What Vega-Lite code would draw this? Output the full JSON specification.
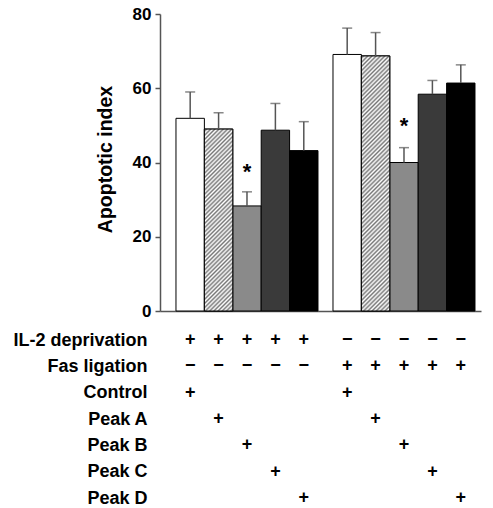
{
  "$schema": "https://vega.github.io/schema/vega-lite/v6.json",
  "padding": {"left": 12, "top": 5, "right": 5, "bottom": 5},
  "config": {"view": {"stroke": null}, "font": "Liberation Sans", "axis": {"grid": false}},
  "datasets": {
    "bars": [
      {"group": "IL2", "cond": "Control", "value": 51.9, "upper": 59.0, "star": null},
      {"group": "IL2", "cond": "Peak A", "value": 49.0, "upper": 53.4, "star": null},
      {"group": "IL2", "cond": "Peak B", "value": 28.3, "upper": 32.1, "star": 38.5},
      {"group": "IL2", "cond": "Peak C", "value": 48.7, "upper": 55.9, "star": null},
      {"group": "IL2", "cond": "Peak D", "value": 43.2, "upper": 51.0, "star": null},
      {"group": "Fas", "cond": "Control", "value": 69.1, "upper": 76.2, "star": null},
      {"group": "Fas", "cond": "Peak A", "value": 68.7, "upper": 75.0, "star": null},
      {"group": "Fas", "cond": "Peak B", "value": 40.0, "upper": 44.0, "star": 50.8},
      {"group": "Fas", "cond": "Peak C", "value": 58.4, "upper": 62.1, "star": null},
      {"group": "Fas", "cond": "Peak D", "value": 61.4, "upper": 66.3, "star": null}
    ],
    "table": [
      {"row": "IL-2 deprivation", "group": "IL2", "cond": "Control", "sym": "+"},
      {"row": "IL-2 deprivation", "group": "IL2", "cond": "Peak A", "sym": "+"},
      {"row": "IL-2 deprivation", "group": "IL2", "cond": "Peak B", "sym": "+"},
      {"row": "IL-2 deprivation", "group": "IL2", "cond": "Peak C", "sym": "+"},
      {"row": "IL-2 deprivation", "group": "IL2", "cond": "Peak D", "sym": "+"},
      {"row": "IL-2 deprivation", "group": "Fas", "cond": "Control", "sym": "−"},
      {"row": "IL-2 deprivation", "group": "Fas", "cond": "Peak A", "sym": "−"},
      {"row": "IL-2 deprivation", "group": "Fas", "cond": "Peak B", "sym": "−"},
      {"row": "IL-2 deprivation", "group": "Fas", "cond": "Peak C", "sym": "−"},
      {"row": "IL-2 deprivation", "group": "Fas", "cond": "Peak D", "sym": "−"},
      {"row": "Fas ligation", "group": "IL2", "cond": "Control", "sym": "−"},
      {"row": "Fas ligation", "group": "IL2", "cond": "Peak A", "sym": "−"},
      {"row": "Fas ligation", "group": "IL2", "cond": "Peak B", "sym": "−"},
      {"row": "Fas ligation", "group": "IL2", "cond": "Peak C", "sym": "−"},
      {"row": "Fas ligation", "group": "IL2", "cond": "Peak D", "sym": "−"},
      {"row": "Fas ligation", "group": "Fas", "cond": "Control", "sym": "+"},
      {"row": "Fas ligation", "group": "Fas", "cond": "Peak A", "sym": "+"},
      {"row": "Fas ligation", "group": "Fas", "cond": "Peak B", "sym": "+"},
      {"row": "Fas ligation", "group": "Fas", "cond": "Peak C", "sym": "+"},
      {"row": "Fas ligation", "group": "Fas", "cond": "Peak D", "sym": "+"},
      {"row": "Control", "group": "IL2", "cond": "Control", "sym": "+"},
      {"row": "Control", "group": "Fas", "cond": "Control", "sym": "+"},
      {"row": "Peak A", "group": "IL2", "cond": "Peak A", "sym": "+"},
      {"row": "Peak A", "group": "Fas", "cond": "Peak A", "sym": "+"},
      {"row": "Peak B", "group": "IL2", "cond": "Peak B", "sym": "+"},
      {"row": "Peak B", "group": "Fas", "cond": "Peak B", "sym": "+"},
      {"row": "Peak C", "group": "IL2", "cond": "Peak C", "sym": "+"},
      {"row": "Peak C", "group": "Fas", "cond": "Peak C", "sym": "+"},
      {"row": "Peak D", "group": "IL2", "cond": "Peak D", "sym": "+"},
      {"row": "Peak D", "group": "Fas", "cond": "Peak D", "sym": "+"}
    ]
  },
  "spacing": 12,
  "vconcat": [
    {
      "width": 321,
      "height": 297,
      "data": {"name": "bars"},
      "encoding": {
        "x": {"field": "group", "type": "nominal", "sort": ["IL2", "Fas"],
              "scale": {"paddingInner": 0.0955, "paddingOuter": 0.07, "align": 0.727},
              "axis": {"title": null, "labels": false, "ticks": false, "domainColor": "#555", "domainWidth": 1.5}},
        "xOffset": {"field": "cond", "type": "nominal", "sort": ["Control", "Peak A", "Peak B", "Peak C", "Peak D"],
                    "scale": {"paddingInner": 0, "paddingOuter": 0}}
      },
      "layer": [
        {
          "mark": {"type": "bar", "stroke": "black", "strokeWidth": 1},
          "encoding": {
            "y": {"field": "value", "type": "quantitative",
                  "scale": {"domain": [0, 80], "nice": false},
                  "axis": {"title": "Apoptotic index", "values": [0, 20, 40, 60, 80],
                           "domainColor": "#555", "domainWidth": 1.5, "tickColor": "#555", "tickWidth": 1.5, "tickSize": 5,
                           "labelFontSize": 17, "labelFontWeight": "bold", "labelColor": "black", "labelPadding": 4,
                           "titleFontSize": 19.5, "titleFontWeight": "bold", "titleColor": "black", "titlePadding": 17, "titleY": 145}},
            "fill": {"field": "cond", "type": "nominal",
                     "scale": {"domain": ["Control", "Peak A", "Peak B", "Peak C", "Peak D"],
                               "range": ["#ffffff", "#cccccc", "#8a8a8a", "#3a3a3a", "#000000"]},
                     "legend": null}
          }
        },
        {
          "transform": [{"filter": "datum.group == 'IL2' && datum.cond == 'Peak A'"}],
          "mark": {"type": "bar", "stroke": "black", "strokeWidth": 1,
                   "fill": {"gradient": "linear", "x1": 0, "y1": 0, "x2": 0.17621, "y2": 1.12862,
                            "stops": [
{"offset":0,"color":"#fff"},{"offset":0.01,"color":"#777"},{"offset":0.02,"color":"#fff"},{"offset":0.03,"color":"#777"},{"offset":0.04,"color":"#fff"},{"offset":0.05,"color":"#777"},{"offset":0.06,"color":"#fff"},{"offset":0.07,"color":"#777"},{"offset":0.08,"color":"#fff"},{"offset":0.09,"color":"#777"},
{"offset":0.10,"color":"#fff"},{"offset":0.11,"color":"#777"},{"offset":0.12,"color":"#fff"},{"offset":0.13,"color":"#777"},{"offset":0.14,"color":"#fff"},{"offset":0.15,"color":"#777"},{"offset":0.16,"color":"#fff"},{"offset":0.17,"color":"#777"},{"offset":0.18,"color":"#fff"},{"offset":0.19,"color":"#777"},
{"offset":0.20,"color":"#fff"},{"offset":0.21,"color":"#777"},{"offset":0.22,"color":"#fff"},{"offset":0.23,"color":"#777"},{"offset":0.24,"color":"#fff"},{"offset":0.25,"color":"#777"},{"offset":0.26,"color":"#fff"},{"offset":0.27,"color":"#777"},{"offset":0.28,"color":"#fff"},{"offset":0.29,"color":"#777"},
{"offset":0.30,"color":"#fff"},{"offset":0.31,"color":"#777"},{"offset":0.32,"color":"#fff"},{"offset":0.33,"color":"#777"},{"offset":0.34,"color":"#fff"},{"offset":0.35,"color":"#777"},{"offset":0.36,"color":"#fff"},{"offset":0.37,"color":"#777"},{"offset":0.38,"color":"#fff"},{"offset":0.39,"color":"#777"},
{"offset":0.40,"color":"#fff"},{"offset":0.41,"color":"#777"},{"offset":0.42,"color":"#fff"},{"offset":0.43,"color":"#777"},{"offset":0.44,"color":"#fff"},{"offset":0.45,"color":"#777"},{"offset":0.46,"color":"#fff"},{"offset":0.47,"color":"#777"},{"offset":0.48,"color":"#fff"},{"offset":0.49,"color":"#777"},
{"offset":0.50,"color":"#fff"},{"offset":0.51,"color":"#777"},{"offset":0.52,"color":"#fff"},{"offset":0.53,"color":"#777"},{"offset":0.54,"color":"#fff"},{"offset":0.55,"color":"#777"},{"offset":0.56,"color":"#fff"},{"offset":0.57,"color":"#777"},{"offset":0.58,"color":"#fff"},{"offset":0.59,"color":"#777"},
{"offset":0.60,"color":"#fff"},{"offset":0.61,"color":"#777"},{"offset":0.62,"color":"#fff"},{"offset":0.63,"color":"#777"},{"offset":0.64,"color":"#fff"},{"offset":0.65,"color":"#777"},{"offset":0.66,"color":"#fff"},{"offset":0.67,"color":"#777"},{"offset":0.68,"color":"#fff"},{"offset":0.69,"color":"#777"},
{"offset":0.70,"color":"#fff"},{"offset":0.71,"color":"#777"},{"offset":0.72,"color":"#fff"},{"offset":0.73,"color":"#777"},{"offset":0.74,"color":"#fff"},{"offset":0.75,"color":"#777"},{"offset":0.76,"color":"#fff"},{"offset":0.77,"color":"#777"},{"offset":0.78,"color":"#fff"},{"offset":0.79,"color":"#777"},
{"offset":0.80,"color":"#fff"},{"offset":0.81,"color":"#777"},{"offset":0.82,"color":"#fff"},{"offset":0.83,"color":"#777"},{"offset":0.84,"color":"#fff"},{"offset":0.85,"color":"#777"},{"offset":0.86,"color":"#fff"},{"offset":0.87,"color":"#777"},{"offset":0.88,"color":"#fff"},{"offset":0.89,"color":"#777"},
{"offset":0.90,"color":"#fff"},{"offset":0.91,"color":"#777"},{"offset":0.92,"color":"#fff"},{"offset":0.93,"color":"#777"},{"offset":0.94,"color":"#fff"},{"offset":0.95,"color":"#777"},{"offset":0.96,"color":"#fff"},{"offset":0.97,"color":"#777"},{"offset":0.98,"color":"#fff"},{"offset":0.99,"color":"#777"},
{"offset":1,"color":"#fff"}
                            ]}},
          "encoding": {"y": {"field": "value", "type": "quantitative"}}
        },
        {
          "transform": [{"filter": "datum.group == 'Fas' && datum.cond == 'Peak A'"}],
          "mark": {"type": "bar", "stroke": "black", "strokeWidth": 1,
                   "fill": {"gradient": "linear", "x1": 0, "y1": 0, "x2": 0.12226, "y2": 1.09775,
                            "stops": [
{"offset":0,"color":"#fff"},{"offset":0.0075,"color":"#777"},{"offset":0.015,"color":"#fff"},{"offset":0.0225,"color":"#777"},{"offset":0.03,"color":"#fff"},{"offset":0.0375,"color":"#777"},{"offset":0.045,"color":"#fff"},{"offset":0.0525,"color":"#777"},{"offset":0.06,"color":"#fff"},{"offset":0.0675,"color":"#777"},
{"offset":0.075,"color":"#fff"},{"offset":0.0825,"color":"#777"},{"offset":0.09,"color":"#fff"},{"offset":0.0975,"color":"#777"},{"offset":0.105,"color":"#fff"},{"offset":0.1125,"color":"#777"},{"offset":0.12,"color":"#fff"},{"offset":0.1275,"color":"#777"},{"offset":0.135,"color":"#fff"},{"offset":0.1425,"color":"#777"},
{"offset":0.15,"color":"#fff"},{"offset":0.1575,"color":"#777"},{"offset":0.165,"color":"#fff"},{"offset":0.1725,"color":"#777"},{"offset":0.18,"color":"#fff"},{"offset":0.1875,"color":"#777"},{"offset":0.195,"color":"#fff"},{"offset":0.2025,"color":"#777"},{"offset":0.21,"color":"#fff"},{"offset":0.2175,"color":"#777"},
{"offset":0.225,"color":"#fff"},{"offset":0.2325,"color":"#777"},{"offset":0.24,"color":"#fff"},{"offset":0.2475,"color":"#777"},{"offset":0.255,"color":"#fff"},{"offset":0.2625,"color":"#777"},{"offset":0.27,"color":"#fff"},{"offset":0.2775,"color":"#777"},{"offset":0.285,"color":"#fff"},{"offset":0.2925,"color":"#777"},
{"offset":0.3,"color":"#fff"},{"offset":0.3075,"color":"#777"},{"offset":0.315,"color":"#fff"},{"offset":0.3225,"color":"#777"},{"offset":0.33,"color":"#fff"},{"offset":0.3375,"color":"#777"},{"offset":0.345,"color":"#fff"},{"offset":0.3525,"color":"#777"},{"offset":0.36,"color":"#fff"},{"offset":0.3675,"color":"#777"},
{"offset":0.375,"color":"#fff"},{"offset":0.3825,"color":"#777"},{"offset":0.39,"color":"#fff"},{"offset":0.3975,"color":"#777"},{"offset":0.405,"color":"#fff"},{"offset":0.4125,"color":"#777"},{"offset":0.42,"color":"#fff"},{"offset":0.4275,"color":"#777"},{"offset":0.435,"color":"#fff"},{"offset":0.4425,"color":"#777"},
{"offset":0.45,"color":"#fff"},{"offset":0.4575,"color":"#777"},{"offset":0.465,"color":"#fff"},{"offset":0.4725,"color":"#777"},{"offset":0.48,"color":"#fff"},{"offset":0.4875,"color":"#777"},{"offset":0.495,"color":"#fff"},{"offset":0.5025,"color":"#777"},{"offset":0.51,"color":"#fff"},{"offset":0.5175,"color":"#777"},
{"offset":0.525,"color":"#fff"},{"offset":0.5325,"color":"#777"},{"offset":0.54,"color":"#fff"},{"offset":0.5475,"color":"#777"},{"offset":0.555,"color":"#fff"},{"offset":0.5625,"color":"#777"},{"offset":0.57,"color":"#fff"},{"offset":0.5775,"color":"#777"},{"offset":0.585,"color":"#fff"},{"offset":0.5925,"color":"#777"},
{"offset":0.6,"color":"#fff"},{"offset":0.6075,"color":"#777"},{"offset":0.615,"color":"#fff"},{"offset":0.6225,"color":"#777"},{"offset":0.63,"color":"#fff"},{"offset":0.6375,"color":"#777"},{"offset":0.645,"color":"#fff"},{"offset":0.6525,"color":"#777"},{"offset":0.66,"color":"#fff"},{"offset":0.6675,"color":"#777"},
{"offset":0.675,"color":"#fff"},{"offset":0.6825,"color":"#777"},{"offset":0.69,"color":"#fff"},{"offset":0.6975,"color":"#777"},{"offset":0.705,"color":"#fff"},{"offset":0.7125,"color":"#777"},{"offset":0.72,"color":"#fff"},{"offset":0.7275,"color":"#777"},{"offset":0.735,"color":"#fff"},{"offset":0.7425,"color":"#777"},
{"offset":0.75,"color":"#fff"},{"offset":0.7575,"color":"#777"},{"offset":0.765,"color":"#fff"},{"offset":0.7725,"color":"#777"},{"offset":0.78,"color":"#fff"},{"offset":0.7875,"color":"#777"},{"offset":0.795,"color":"#fff"},{"offset":0.8025,"color":"#777"},{"offset":0.81,"color":"#fff"},{"offset":0.8175,"color":"#777"},
{"offset":0.825,"color":"#fff"},{"offset":0.8325,"color":"#777"},{"offset":0.84,"color":"#fff"},{"offset":0.8475,"color":"#777"},{"offset":0.855,"color":"#fff"},{"offset":0.8625,"color":"#777"},{"offset":0.87,"color":"#fff"},{"offset":0.8775,"color":"#777"},{"offset":0.885,"color":"#fff"},{"offset":0.8925,"color":"#777"},
{"offset":0.9,"color":"#fff"},{"offset":0.9075,"color":"#777"},{"offset":0.915,"color":"#fff"},{"offset":0.9225,"color":"#777"},{"offset":0.93,"color":"#fff"},{"offset":0.9375,"color":"#777"},{"offset":0.945,"color":"#fff"},{"offset":0.9525,"color":"#777"},{"offset":0.96,"color":"#fff"},{"offset":0.9675,"color":"#777"},
{"offset":0.975,"color":"#fff"},{"offset":0.9825,"color":"#777"},{"offset":0.99,"color":"#fff"},{"offset":0.9975,"color":"#777"},{"offset":1,"color":"#fff"}
                            ]}},
          "encoding": {"y": {"field": "value", "type": "quantitative"}}
        },
        {
          "mark": {"type": "rule", "color": "#555", "strokeWidth": 1.5},
          "encoding": {"y": {"field": "value", "type": "quantitative"}, "y2": {"field": "upper"}}
        },
        {
          "mark": {"type": "tick", "color": "#555", "thickness": 1.5, "size": 10},
          "encoding": {"y": {"field": "upper", "type": "quantitative"}}
        },
        {
          "transform": [{"filter": "datum.star != null"}],
          "mark": {"type": "text", "text": "*", "fontSize": 22, "fontWeight": "bold", "baseline": "middle", "dy": 4, "color": "black"},
          "encoding": {"y": {"field": "star", "type": "quantitative"}}
        }
      ]
    },
    {
      "width": 321,
      "height": 158,
      "data": {"name": "table"},
      "mark": {"type": "text", "fontWeight": "bold", "fontSize": 18, "color": "black", "baseline": "middle"},
      "encoding": {
        "x": {"field": "group", "type": "nominal", "sort": ["IL2", "Fas"],
              "scale": {"paddingInner": 0.0955, "paddingOuter": 0.07, "align": 0.727},
              "axis": null},
        "xOffset": {"field": "cond", "type": "nominal", "sort": ["Control", "Peak A", "Peak B", "Peak C", "Peak D"],
                    "scale": {"paddingInner": 0, "paddingOuter": 0}},
        "y": {"field": "row", "type": "nominal",
              "sort": ["IL-2 deprivation", "Fas ligation", "Control", "Peak A", "Peak B", "Peak C", "Peak D"],
              "scale": {"type": "point", "padding": 0},
              "axis": {"title": null, "domain": false, "ticks": false, "labelPadding": 13,
                       "labelFontSize": 18, "labelFontWeight": "bold", "labelColor": "black"}},
        "text": {"field": "sym", "type": "nominal"}
      }
    }
  ]
}
